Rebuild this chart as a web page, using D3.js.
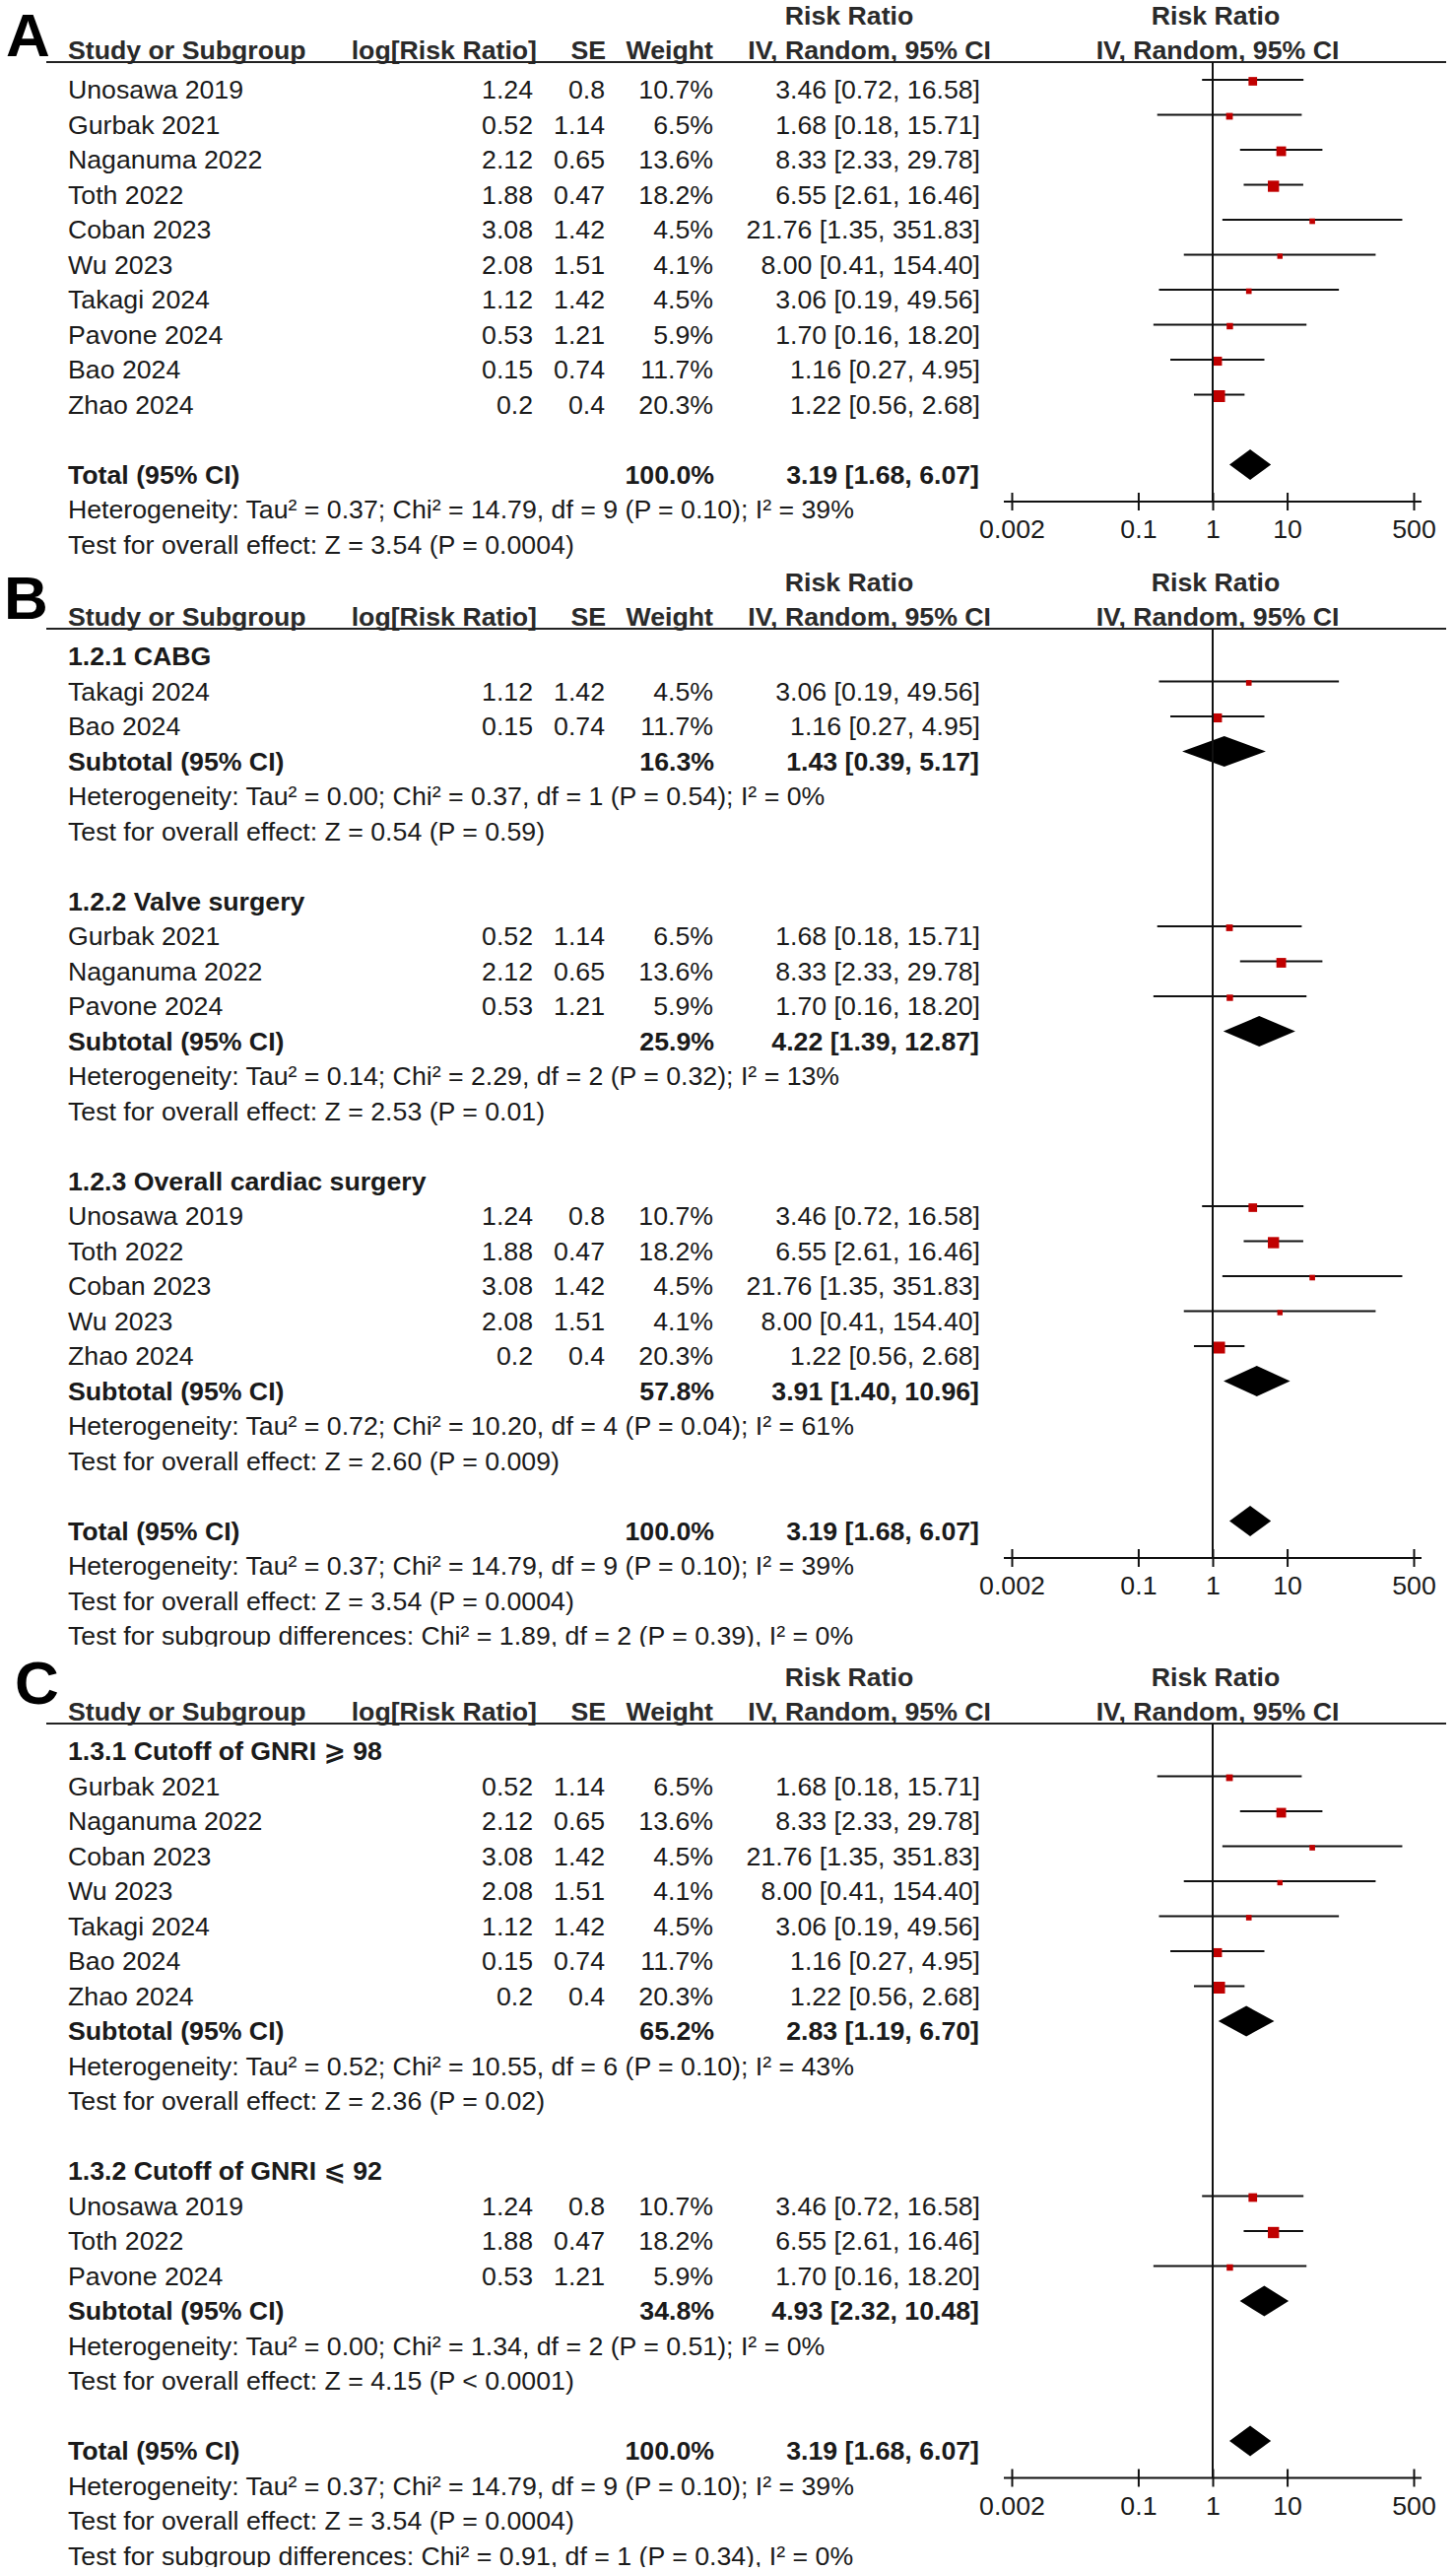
<!DOCTYPE html>
<html>
<head>
<meta charset="utf-8">
<script src="https://cdn.jsdelivr.net/npm/d3@7"></script>
<style>
  body { margin: 0; background: #fff; }
  svg { display: block; font-family: "Liberation Sans", Arial, "DejaVu Sans", sans-serif; }
</style>
</head>
<body>
<div id="chart"></div>
<script>
// study level data (same order as panel A)
const studyNames = ["Unosawa 2019", "Gurbak 2021", "Naganuma 2022", "Toth 2022", "Coban 2023",
  "Wu 2023", "Takagi 2024", "Pavone 2024", "Bao 2024", "Zhao 2024"];
const logRR = [1.24, 0.52, 2.12, 1.88, 3.08, 2.08, 1.12, 0.53, 0.15, 0.2];
const seVals = [0.8, 1.14, 0.65, 0.47, 1.42, 1.51, 1.42, 1.21, 0.74, 0.4];
const weights = [10.7, 6.5, 13.6, 18.2, 4.5, 4.1, 4.5, 5.9, 11.7, 20.3];
const rrVals = [3.46, 1.68, 8.33, 6.55, 21.76, 8.00, 3.06, 1.70, 1.16, 1.22];
const ciLow = [0.72, 0.18, 2.33, 2.61, 1.35, 0.41, 0.19, 0.16, 0.27, 0.56];
const ciHigh = [16.58, 15.71, 29.78, 16.46, 351.83, 154.40, 49.56, 18.20, 4.95, 2.68];

const totalWeight = 100.0;
const totalEst = [3.19, 1.68, 6.07];
const totalHet = "Heterogeneity: Tau² = 0.37; Chi² = 14.79, df = 9 (P = 0.10); I² = 39%";
const totalTest = "Test for overall effect: Z = 3.54 (P = 0.0004)";

// panel B subgroups
const titlesB = ["1.2.1 CABG", "1.2.2 Valve surgery", "1.2.3 Overall cardiac surgery"];
const membersB = [["Takagi 2024", "Bao 2024"],
  ["Gurbak 2021", "Naganuma 2022", "Pavone 2024"],
  ["Unosawa 2019", "Toth 2022", "Coban 2023", "Wu 2023", "Zhao 2024"]];
const subWeightB = [16.3, 25.9, 57.8];
const subEstB = [[1.43, 0.39, 5.17], [4.22, 1.39, 12.87], [3.91, 1.40, 10.96]];
const subHetB = [
  "Heterogeneity: Tau² = 0.00; Chi² = 0.37, df = 1 (P = 0.54); I² = 0%",
  "Heterogeneity: Tau² = 0.14; Chi² = 2.29, df = 2 (P = 0.32); I² = 13%",
  "Heterogeneity: Tau² = 0.72; Chi² = 10.20, df = 4 (P = 0.04); I² = 61%"];
const subTestB = [
  "Test for overall effect: Z = 0.54 (P = 0.59)",
  "Test for overall effect: Z = 2.53 (P = 0.01)",
  "Test for overall effect: Z = 2.60 (P = 0.009)"];
const diffB = "Test for subgroup differences: Chi² = 1.89, df = 2 (P = 0.39), I² = 0%";

// panel C subgroups
const titlesC = ["1.3.1 Cutoff of GNRI ⩾ 98", "1.3.2 Cutoff of GNRI ⩽ 92"];
const membersC = [["Gurbak 2021", "Naganuma 2022", "Coban 2023", "Wu 2023", "Takagi 2024", "Bao 2024", "Zhao 2024"],
  ["Unosawa 2019", "Toth 2022", "Pavone 2024"]];
const subWeightC = [65.2, 34.8];
const subEstC = [[2.83, 1.19, 6.70], [4.93, 2.32, 10.48]];
const subHetC = [
  "Heterogeneity: Tau² = 0.52; Chi² = 10.55, df = 6 (P = 0.10); I² = 43%",
  "Heterogeneity: Tau² = 0.00; Chi² = 1.34, df = 2 (P = 0.51); I² = 0%"];
const subTestC = [
  "Test for overall effect: Z = 2.36 (P = 0.02)",
  "Test for overall effect: Z = 4.15 (P < 0.0001)"];
const diffC = "Test for subgroup differences: Chi² = 0.91, df = 1 (P = 0.34), I² = 0%";

const axisTicks = [0.002, 0.1, 1, 10, 500];

const W = 1478, H = 2611;
const rowH = 35.5;
const fontSize = 26.7;
const textColor = "#1a1a1a";

const svg = d3.select("#chart").append("svg")
  .attr("width", W).attr("height", H)
  .style("background", "#fff");

const x = d3.scaleLog().domain([0.002, 500]).range([1027, 1435]);
const boxSize = d3.scaleSqrt().domain([0, 20.3]).range([0, 12]);

const fmt2 = d3.format(".2f");
const estText = (e) => `${fmt2(e[0])} [${fmt2(e[1])}, ${fmt2(e[2])}]`;

const studyRow = (name) => {
  const i = studyNames.indexOf(name);
  return { type: "study", i: i };
};

const buildSimpleRows = () => {
  const rows = studyNames.map(studyRow);
  rows.push({ type: "blank" });
  rows.push({ type: "total" });
  rows.push({ type: "text", text: totalHet, axis: true });
  rows.push({ type: "text", text: totalTest });
  return rows;
};

const buildGroupRows = (titles, members, sw, se, het, test, diff) => {
  let rows = [];
  titles.forEach((t, k) => {
    rows.push({ type: "group", text: t });
    members[k].forEach(m => rows.push(studyRow(m)));
    rows.push({ type: "subtotal", w: sw[k], est: se[k] });
    rows.push({ type: "text", text: het[k] });
    rows.push({ type: "text", text: test[k] });
    rows.push({ type: "blank" });
  });
  rows.push({ type: "total" });
  rows.push({ type: "text", text: totalHet, axis: true });
  rows.push({ type: "text", text: totalTest });
  rows.push({ type: "text", text: diff });
  return rows;
};

const addText = (g, str, xp, yp, anchor, bold, size) => {
  return g.append("text")
    .attr("x", xp).attr("y", yp)
    .attr("text-anchor", anchor)
    .attr("font-weight", bold ? "bold" : "normal")
    .attr("font-size", size || fontSize)
    .attr("fill", textColor)
    .text(str);
};

const drawPanel = (top, rows, letter, letterX, letterY, clipBottom, id) => {
  svg.append("clipPath").attr("id", id)
    .append("rect").attr("x", 0).attr("y", top - 40).attr("width", W).attr("height", clipBottom - top + 40);
  const g = svg.append("g").attr("clip-path", `url(#${id})`);

  // panel letter
  g.append("text").attr("x", letterX).attr("y", letterY)
    .attr("font-size", 62).attr("font-weight", "bold").attr("fill", "#000").text(letter);

  // headers
  const hdrY = top + 60;
  const hdrColor = "#2a2a2a";
  addText(g, "Risk Ratio", 862, top + 25, "middle", true).attr("fill", hdrColor);
  addText(g, "Risk Ratio", 1234, top + 25, "middle", true).attr("fill", hdrColor);
  addText(g, "Study or Subgroup", 69, hdrY, "start", true).attr("fill", hdrColor);
  addText(g, "log[Risk Ratio]", 545, hdrY, "end", true).attr("fill", hdrColor);
  addText(g, "SE", 615, hdrY, "end", true).attr("fill", hdrColor);
  addText(g, "Weight", 724, hdrY, "end", true).attr("fill", hdrColor);
  addText(g, "IV, Random, 95% CI", 1006, hdrY, "end", true).attr("fill", hdrColor);
  addText(g, "IV, Random, 95% CI", 1236, hdrY, "middle", true).attr("fill", hdrColor);
  g.append("line").attr("x1", 47).attr("x2", 1468)
    .attr("y1", top + 63).attr("y2", top + 63)
    .attr("stroke", "#222").attr("stroke-width", 2);

  const base = (i) => top + 100 + i * rowH;
  let axisY = null;

  rows.forEach((r, i) => {
    const yb = base(i);
    const ym = yb - 19;
    if (r.type === "study") {
      const k = r.i;
      addText(g, studyNames[k], 69, yb, "start", false);
      addText(g, String(logRR[k]), 541, yb, "end", false);
      addText(g, String(seVals[k]), 614, yb, "end", false);
      addText(g, weights[k].toFixed(1) + "%", 724, yb, "end", false);
      addText(g, estText([rrVals[k], ciLow[k], ciHigh[k]]), 995, yb, "end", false);
      g.append("line")
        .attr("x1", x(ciLow[k])).attr("x2", x(ciHigh[k]))
        .attr("y1", ym).attr("y2", ym)
        .attr("stroke", "#111").attr("stroke-width", 2);
      const s = boxSize(weights[k]);
      g.append("rect")
        .attr("x", x(rrVals[k]) - s / 2).attr("y", ym + 1.5 - s / 2)
        .attr("width", s).attr("height", s)
        .attr("fill", "#c00000");
    } else if (r.type === "group") {
      addText(g, r.text, 69, yb, "start", true);
    } else if (r.type === "subtotal" || r.type === "total") {
      const w = r.type === "total" ? totalWeight : r.w;
      const e = r.type === "total" ? totalEst : r.est;
      addText(g, r.type === "total" ? "Total (95% CI)" : "Subtotal (95% CI)", 69, yb, "start", true);
      addText(g, w.toFixed(1) + "%", 725, yb, "end", true);
      addText(g, estText(e), 994, yb, "end", true);
      const h = 15.5;
      g.append("path")
        .attr("d", `M${x(e[1])},${ym} L${x(e[0])},${ym - h} L${x(e[2])},${ym} L${x(e[0])},${ym + h} Z`)
        .attr("fill", "#000");
    } else if (r.type === "text") {
      addText(g, r.text, 69, yb, "start", false);
      if (r.axis) axisY = yb - 17;
    }
  });

  // vertical line at RR = 1
  g.append("line").attr("x1", x(1)).attr("x2", x(1))
    .attr("y1", top + 63).attr("y2", axisY)
    .attr("stroke", "#111").attr("stroke-width", 2);

  // axis
  const ax = g.append("g").attr("transform", `translate(0,${axisY})`)
    .call(d3.axisBottom(x).tickValues(axisTicks).tickFormat(d => String(d)).tickSizeOuter(0));
  ax.select(".domain").remove();
  ax.append("line").attr("x1", x(0.002) - 8).attr("x2", x(500) + 8)
    .attr("stroke", "#111").attr("stroke-width", 2);
  ax.selectAll(".tick line").attr("y1", -9).attr("y2", 9)
    .attr("stroke", "#111").attr("stroke-width", 2);
  ax.selectAll(".tick text").attr("y", 37).attr("dy", 0)
    .attr("font-size", fontSize).attr("font-family", "'Liberation Sans', Arial, sans-serif")
    .attr("fill", textColor);
};

drawPanel(0, buildSimpleRows(), "A", 6, 57, 575, "clipA");
drawPanel(575, buildGroupRows(titlesB, membersB, subWeightB, subEstB, subHetB, subTestB, diffB),
  "B", 4, 628, 1671, "clipB");
drawPanel(1686, buildGroupRows(titlesC, membersC, subWeightC, subEstC, subHetC, subTestC, diffC),
  "C", 15, 1729, 2605, "clipC");
</script>
</body>
</html>
